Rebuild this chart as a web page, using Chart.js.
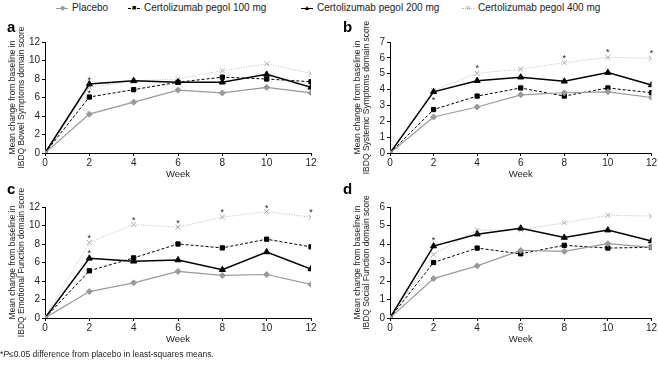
<!DOCTYPE html>
<html lang="en">
<head>
<meta charset="UTF-8" />
<title>IBDQ domain scores</title>
<script src="https://cdn.jsdelivr.net/npm/chart.js"></script>
<style>
  * { margin: 0; padding: 0; box-sizing: border-box; }
  body { width: 658px; height: 367px; background: #fff; font-family: 'Liberation Sans', Arial, sans-serif; color: #222; position: relative; overflow: hidden; }
  .legend { position: absolute; top: 1px; left: 0; width: 658px; height: 14px; font-size: 10px; z-index: 2; }
  .item { position: absolute; top: 0; white-space: nowrap; line-height: 14px; }
  .sample { position: absolute; top: 7px; width: 12px; height: 0; }
  .mark { position: absolute; top: 0; line-height: 14px; font-size: 7px; width: 12px; text-align: center; }
  .panel { position: absolute; }
  .letter { position: absolute; font-weight: bold; font-size: 15px; color: #000; z-index: 2; }
  .note { position: absolute; left: 0; top: 349px; font-size: 8.5px; color: #222; }
</style>
</head>
<body>
  <div class="legend">
    <div class="item" style="left:56px"><span class="sample" style="left:0;border-top:1px solid #999"></span><span class="mark" style="left:0;color:#999">&#9670;</span><span style="margin-left:16px">Placebo</span></div>
    <div class="item" style="left:128px"><span class="sample" style="left:0;border-top:1px dashed #000"></span><span class="mark" style="left:0;color:#000">&#9632;</span><span style="margin-left:16px">Certolizumab pegol 100 mg</span></div>
    <div class="item" style="left:301px"><span class="sample" style="left:0;border-top:1px solid #000"></span><span class="mark" style="left:0;color:#000">&#9650;</span><span style="margin-left:16px">Certolizumab pegol 200 mg</span></div>
    <div class="item" style="left:462px"><span class="sample" style="left:0;border-top:1px dotted #bbb"></span><span class="mark" style="left:0;color:#aaa;font-size:9px">&#215;</span><span style="margin-left:16px">Certolizumab pegol 400 mg</span></div>
  </div>

  <div class="letter" style="left:7px;top:18px">a</div>
  <div class="letter" style="left:343px;top:18px">b</div>
  <div class="letter" style="left:7px;top:180px">c</div>
  <div class="letter" style="left:343px;top:180px">d</div>

  <div class="panel" style="left:0;top:16px;width:325px;height:164px"><canvas id="chartA"></canvas></div>
  <div class="panel" style="left:345px;top:16px;width:313px;height:164px"><canvas id="chartB"></canvas></div>
  <div class="panel" style="left:0;top:178px;width:325px;height:167px"><canvas id="chartC"></canvas></div>
  <div class="panel" style="left:345px;top:178px;width:313px;height:167px"><canvas id="chartD"></canvas></div>

  <div class="note">*<i>P</i>&le;0.05 difference from placebo in least-squares means.</div>

<script>
  const weeks = [0, 2, 4, 6, 8, 10, 12];

  // a: Bowel Symptoms
  const bowelPlacebo = [0, 4.2, 5.5, 6.8, 6.5, 7.1, 6.5];
  const bowel100 = [0, 6.05, 6.85, 7.65, 8.2, 8.0, 7.7];
  const bowel200 = [0, 7.45, 7.8, 7.65, 7.65, 8.5, 7.1];
  const bowel400 = [0, 7.1, 7.8, 8.0, 8.9, 9.65, 8.6];
  const bowelStars = [[2, 8.1], [2, 6.6]];

  // b: Systemic Symptoms
  const systemicPlacebo = [0, 2.27, 2.9, 3.67, 3.8, 3.86, 3.5];
  const systemic100 = [0, 2.74, 3.59, 4.1, 3.59, 4.1, 3.8];
  const systemic200 = [0, 3.86, 4.56, 4.78, 4.52, 5.07, 4.29];
  const systemic400 = [0, 3.93, 5.03, 5.29, 5.69, 6.03, 5.97];
  const systemicStars = [[2, 3.44], [4, 5.46], [8, 6.09], [10, 6.45], [12, 6.39]];

  // c: Emotional Function
  const emotionalPlacebo = [0, 2.86, 3.8, 5.04, 4.6, 4.7, 3.63];
  const emotional100 = [0, 5.1, 6.5, 8.0, 7.58, 8.52, 7.69];
  const emotional200 = [0, 6.45, 6.13, 6.27, 5.22, 7.14, 5.3];
  const emotional400 = [0, 8.16, 10.1, 9.83, 10.9, 11.5, 10.9];
  const emotionalStars = [[2, 8.77], [2, 7.14], [4, 10.77], [6, 10.48], [8, 11.57], [10, 12.07], [12, 11.57]];

  // d: Social Function
  const socialPlacebo = [0, 2.13, 2.82, 3.65, 3.6, 4.02, 3.82];
  const social100 = [0, 3.0, 3.78, 3.47, 3.93, 3.78, 3.82];
  const social200 = [0, 3.89, 4.53, 4.85, 4.35, 4.75, 4.16];
  const social400 = [0, 3.44, 4.75, 4.76, 5.15, 5.55, 5.51];
  const socialStars = [[2, 4.31]];

  const FONT = "'Liberation Sans', Arial, sans-serif";

  // draws the significance asterisks at data positions
  const starPlugin = {
    id: 'stars',
    afterDatasetsDraw(chart, args, opts) {
      const ctx = chart.ctx;
      const xs = chart.scales.x, ys = chart.scales.y;
      ctx.save();
      ctx.fillStyle = '#222';
      ctx.font = '9px ' + FONT;
      ctx.textAlign = 'center';
      ctx.textBaseline = 'middle';
      (opts.points || []).forEach(p => {
        ctx.fillText('*', xs.getPixelForValue(p[0]), ys.getPixelForValue(p[1]) + 2);
      });
      ctx.restore();
    }
  };

  function series(vals) {
    return vals.map((v, i) => ({ x: weeks[i], y: v }));
  }

  function makePanel(id, placebo, c100, c200, c400, stars, yMax, yStep, title, padTop, padRight) {
    new Chart(document.getElementById(id), {
      type: 'line',
      data: {
        datasets: [
          { label: 'Placebo', data: series(placebo), borderColor: '#999', backgroundColor: '#999', borderWidth: 1.2,
            pointStyle: 'rectRot', pointRadius: 3, pointBorderWidth: 1 },
          { label: 'Certolizumab pegol 100 mg', data: series(c100), borderColor: '#000', backgroundColor: '#000', borderWidth: 1,
            borderDash: [3, 2], pointStyle: 'rect', pointRadius: 3, pointBorderWidth: 1 },
          { label: 'Certolizumab pegol 200 mg', data: series(c200), borderColor: '#000', backgroundColor: '#000', borderWidth: 1.5,
            pointStyle: 'triangle', pointRadius: 3.5, pointBorderWidth: 1 },
          { label: 'Certolizumab pegol 400 mg', data: series(c400), borderColor: '#bbb', backgroundColor: '#bbb', borderWidth: 1,
            borderDash: [1, 1.5], pointStyle: 'crossRot', pointRadius: 3.5, pointBorderWidth: 1, pointBorderColor: '#aaa' }
        ]
      },
      options: {
        responsive: true,
        maintainAspectRatio: false,
        animation: false,
        layout: { padding: { top: padTop, right: padRight, left: 0, bottom: 0 } },
        plugins: { legend: { display: false }, tooltip: { enabled: false }, stars: { points: stars } },
        scales: {
          x: {
            type: 'linear', min: 0, max: 12,
            ticks: { stepSize: 2, color: '#222', font: { family: FONT, size: 10 }, padding: 1, maxRotation: 0 },
            grid: { display: true, drawOnChartArea: false, drawTicks: true, tickLength: 3, color: '#000' },
            border: { color: '#000', width: 1 },
            title: { display: true, text: 'Week', color: '#222', font: { family: FONT, size: 9.5 }, padding: { top: 0, bottom: 0 } },
            afterFit: s => { s.height = 27; }
          },
          y: {
            min: 0, max: yMax,
            ticks: { stepSize: yStep, color: '#222', font: { family: FONT, size: 10 }, padding: 2 },
            grid: { display: true, drawOnChartArea: false, drawTicks: true, tickLength: 3, color: '#000' },
            border: { color: '#000', width: 1 },
            title: { display: true, text: title, color: '#222', font: { family: FONT, size: 8.5, lineHeight: 1.1 }, padding: { top: 8, bottom: 0 } },
            afterFit: s => { s.width = 45; }
          }
        }
      },
      plugins: [starPlugin]
    });
  }

  makePanel('chartA', bowelPlacebo, bowel100, bowel200, bowel400, bowelStars, 12, 2,
    ['Mean change from baseline in', 'IBDQ Bowel Symptoms domain score'], 26, 14);
  makePanel('chartB', systemicPlacebo, systemic100, systemic200, systemic400, systemicStars, 7, 1,
    ['Mean change from baseline in', 'IBDQ Systemic Symptoms domain score'], 26, 4);
  makePanel('chartC', emotionalPlacebo, emotional100, emotional200, emotional400, emotionalStars, 12, 2,
    ['Mean change from baseline in', 'IBDQ Emotional Function domain score'], 29, 14);
  makePanel('chartD', socialPlacebo, social100, social200, social400, socialStars, 6, 1,
    ['Mean change from baseline in', 'IBDQ Social Function domain score'], 29, 4);
</script>
</body>
</html>
